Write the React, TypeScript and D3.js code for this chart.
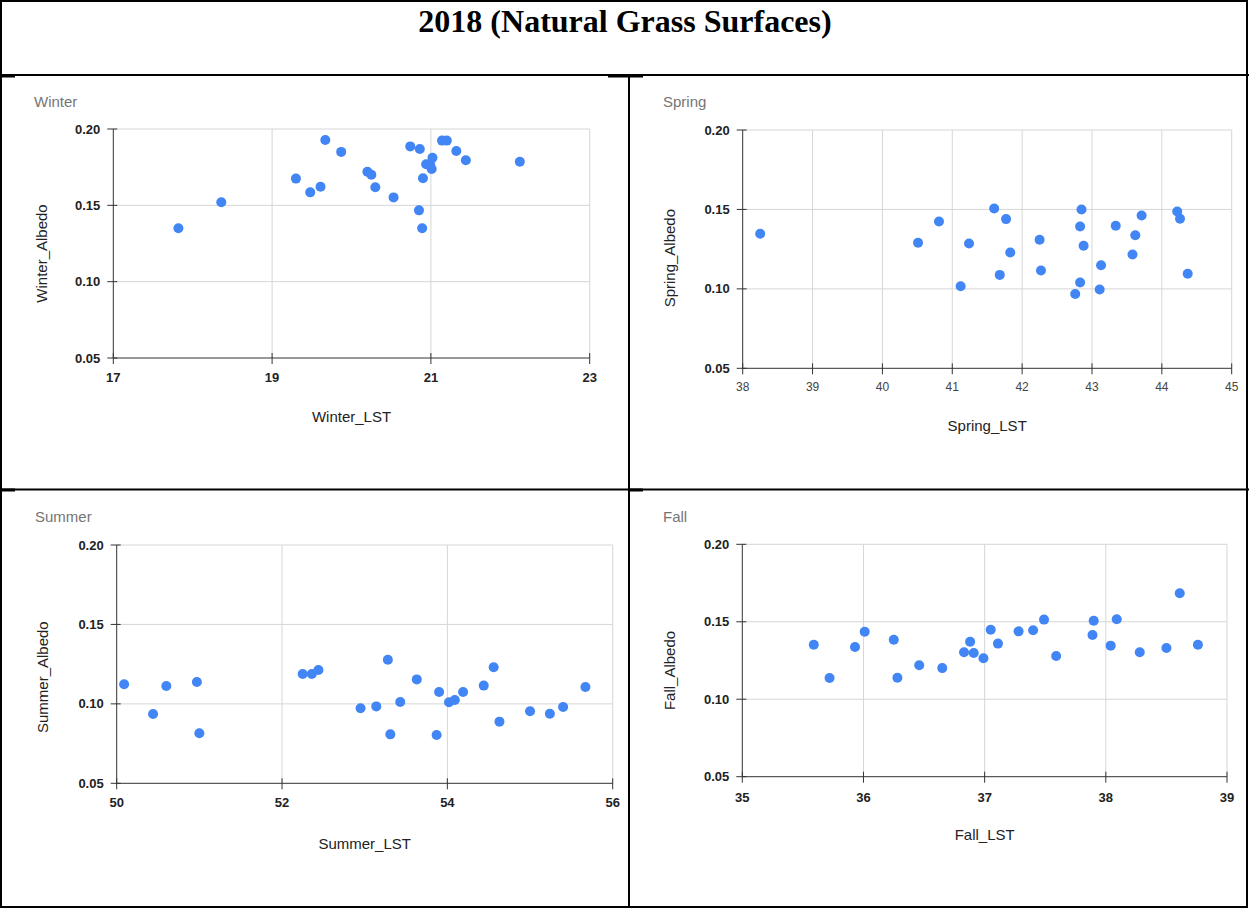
import React from "react";
import * as d3 from "d3";

const winterLST = [17.82, 18.36, 19.30, 19.48, 19.61, 19.67, 19.87, 20.20, 20.25, 20.30, 20.53, 20.74, 20.86, 20.85, 20.89, 20.90, 20.94, 20.99, 21.01, 21.02, 21.14, 21.20, 21.32, 21.44, 22.12];
const winterAlbedo = [0.135, 0.152, 0.1675, 0.1585, 0.1622, 0.1928, 0.185, 0.172, 0.170, 0.1618, 0.1552, 0.1886, 0.1869, 0.1467, 0.135, 0.1677, 0.1769, 0.1769, 0.1738, 0.1812, 0.1924, 0.1924, 0.1856, 0.1795, 0.1786];

const springLST = [38.25, 40.51, 40.81, 41.12, 41.24, 41.60, 41.68, 41.77, 41.83, 42.25, 42.27, 42.76, 42.83, 42.83, 42.85, 42.88, 43.11, 43.13, 43.34, 43.58, 43.62, 43.71, 44.22, 44.26, 44.37];
const springAlbedo = [0.1347, 0.129, 0.1424, 0.1017, 0.1286, 0.1506, 0.1088, 0.1439, 0.1229, 0.1309, 0.1116, 0.0968, 0.1393, 0.104, 0.150, 0.1271, 0.0996, 0.1149, 0.1397, 0.1216, 0.1338, 0.1462, 0.1487, 0.1441, 0.1095];

const summerLST = [50.09, 50.44, 50.60, 50.97, 51.00, 52.25, 52.36, 52.44, 52.95, 53.14, 53.28, 53.31, 53.43, 53.63, 53.87, 53.90, 54.02, 54.09, 54.19, 54.44, 54.56, 54.63, 55.00, 55.24, 55.40, 55.67];
const summerAlbedo = [0.1123, 0.0936, 0.1112, 0.1138, 0.0815, 0.1188, 0.1188, 0.1213, 0.0972, 0.0984, 0.1278, 0.0808, 0.1012, 0.1154, 0.0804, 0.1075, 0.1010, 0.1024, 0.1075, 0.1115, 0.123, 0.0888, 0.0953, 0.0938, 0.098, 0.1106];

const fallLST = [35.59, 35.72, 35.93, 36.01, 36.25, 36.28, 36.46, 36.65, 36.83, 36.88, 36.91, 36.99, 37.05, 37.11, 37.28, 37.40, 37.49, 37.59, 37.89, 37.90, 38.04, 38.09, 38.28, 38.50, 38.61, 38.76];
const fallAlbedo = [0.1352, 0.1137, 0.1337, 0.1436, 0.1384, 0.1139, 0.1219, 0.1201, 0.1303, 0.1371, 0.1298, 0.1264, 0.1449, 0.1359, 0.1438, 0.1445, 0.1514, 0.1279, 0.1415, 0.1507, 0.1346, 0.1516, 0.1303, 0.1331, 0.1684, 0.1352];

const albedoTicks = [0.05, 0.10, 0.15, 0.20];
const winterTicks = [17, 19, 21, 23];
const springTicks = [38, 39, 40, 41, 42, 43, 44, 45];
const summerTicks = [50, 52, 54, 56];
const fallTicks = [35, 36, 37, 38, 39];

const chartTitle = "2018 (Natural Grass Surfaces)";

type Panel = {
  name: string;
  xLabel: string;
  yLabel: string;
  xs: number[];
  ys: number[];
  xTicks: number[];
  x0: number; x1: number; yTop: number; yBot: number;
  titleX: number; titleY: number;
  xTickY: number; xTitleY: number; yTitleX: number; yTitleShift: number;
  xTickBold: boolean;
};

const panels: Panel[] = [
  { name: "Winter", xLabel: "Winter_LST", yLabel: "Winter_Albedo", xs: winterLST, ys: winterAlbedo, xTicks: winterTicks,
    x0: 113.3, x1: 589.7, yTop: 129, yBot: 358, titleX: 34, titleY: 107, xTickY: 382, xTitleY: 421.5, yTitleX: 47, yTitleShift: 10, xTickBold: true },
  { name: "Spring", xLabel: "Spring_LST", yLabel: "Spring_Albedo", xs: springLST, ys: springAlbedo, xTicks: springTicks,
    x0: 742.7, x1: 1231.7, yTop: 130, yBot: 368.3, titleX: 663, titleY: 107, xTickY: 390.5, xTitleY: 430.5, yTitleX: 675, yTitleShift: 9, xTickBold: false },
  { name: "Summer", xLabel: "Summer_LST", yLabel: "Summer_Albedo", xs: summerLST, ys: summerAlbedo, xTicks: summerTicks,
    x0: 116.7, x1: 612.7, yTop: 545, yBot: 783.3, titleX: 35, titleY: 522, xTickY: 806.5, xTitleY: 849, yTitleX: 48, yTitleShift: 13, xTickBold: true },
  { name: "Fall", xLabel: "Fall_LST", yLabel: "Fall_Albedo", xs: fallLST, ys: fallAlbedo, xTicks: fallTicks,
    x0: 742.3, x1: 1227, yTop: 544.3, yBot: 776.7, titleX: 663, titleY: 522, xTickY: 801.5, xTitleY: 840, yTitleX: 675, yTitleShift: 10, xTickBold: true },
];

const FONT = "Liberation Sans, Arial, sans-serif";
const fmt = d3.format(".2f");

function ScatterPanel({ p }: { p: Panel }) {
  const x = d3.scaleLinear().domain(d3.extent(p.xTicks) as [number, number]).range([p.x0, p.x1]);
  const y = d3.scaleLinear().domain(d3.extent(albedoTicks) as [number, number]).range([p.yBot, p.yTop]);
  const yMid = (p.yTop + p.yBot) / 2 + p.yTitleShift;
  const xMid = (p.x0 + p.x1) / 2;
  return (
    <g>
      <text x={p.titleX} y={p.titleY} fontFamily={FONT} fontSize={15} fill="#757575">{p.name}</text>
      {p.xTicks.slice(1).map((t) => (
        <line key={"gx" + t} x1={x(t)} x2={x(t)} y1={p.yTop} y2={p.yBot} stroke="#d6d6d6" strokeWidth={1} />
      ))}
      {albedoTicks.slice(1).map((t) => (
        <line key={"gy" + t} x1={p.x0} x2={p.x1} y1={y(t)} y2={y(t)} stroke="#d6d6d6" strokeWidth={1} />
      ))}
      <line x1={p.x0} x2={p.x0} y1={p.yTop} y2={p.yBot} stroke="#333" strokeWidth={1} />
      <line x1={p.x0} x2={p.x1} y1={p.yBot} y2={p.yBot} stroke="#333" strokeWidth={1} />
      {albedoTicks.map((t) => (
        <g key={"ty" + t}>
          <line x1={p.x0 - 6} x2={p.x0 + 4} y1={y(t)} y2={y(t)} stroke="#333" strokeWidth={1} />
          <text x={p.x0 - 13} y={y(t)} dy="0.35em" textAnchor="end" fontFamily={FONT} fontSize={13} fontWeight="bold" fill="#222">{fmt(t)}</text>
        </g>
      ))}
      {p.xTicks.map((t) => (
        <g key={"tx" + t}>
          <line x1={x(t)} x2={x(t)} y1={p.yBot - 5} y2={p.yBot + 6} stroke="#333" strokeWidth={1} />
          <text x={x(t)} y={p.xTickY} textAnchor="middle" fontFamily={FONT}
            fontSize={p.xTickBold ? 13 : 12} fontWeight={p.xTickBold ? "bold" : "normal"} fill={p.xTickBold ? "#222" : "#444"}>{t}</text>
        </g>
      ))}
      <text x={xMid} y={p.xTitleY} textAnchor="middle" fontFamily={FONT} fontSize={15} fill="#222">{p.xLabel}</text>
      <text transform={`translate(${p.yTitleX},${yMid}) rotate(-90)`} textAnchor="middle" fontFamily={FONT} fontSize={15} fill="#222">{p.yLabel}</text>
      {p.xs.map((v, i) => (
        <circle key={"c" + i} cx={x(v)} cy={y(p.ys[i])} r={5} fill="#4285f4" />
      ))}
    </g>
  );
}

export default function App() {
  return (
    <svg width={1249} height={909} style={{ position: "absolute", left: 0, top: 0, background: "#fff" }}>
      <rect x={0} y={0} width={1249} height={909} fill="#fff" />
      <text x={625} y={32} textAnchor="middle" fontFamily="Liberation Serif, Times New Roman, serif" fontWeight="bold" fontSize={32} fill="#000">{chartTitle}</text>
      {panels.map((p) => <ScatterPanel key={p.name} p={p} />)}
      <g stroke="#000" strokeWidth={2} fill="none">
        <rect x={1} y={1} width={1246} height={906} />
        <line x1={0} x2={1249} y1={75} y2={75} />
        <line x1={629} x2={629} y1={75} y2={908} />
        <line x1={0} x2={1249} y1={489.5} y2={489.5} />
      </g>
      <g stroke="#000" strokeWidth={3}>
        <line x1={2} x2={15} y1={76} y2={76} />
        <line x1={608} x2={643} y1={76} y2={76} />
        <line x1={2} x2={15} y1={490} y2={490} />
        <line x1={629} x2={643} y1={490} y2={490} />
      </g>
    </svg>
  );
}
